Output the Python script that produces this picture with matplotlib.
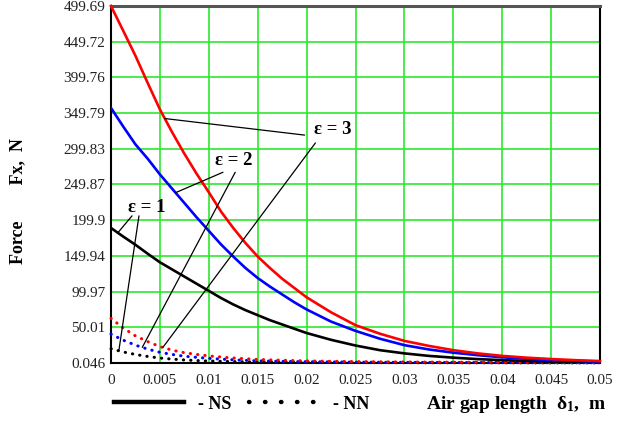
import numpy as np
import matplotlib
matplotlib.use("Agg")
import matplotlib.pyplot as plt
from matplotlib.lines import Line2D

plt.rcParams['font.family'] = ['Liberation Serif', 'DejaVu Serif']
plt.rcParams['mathtext.fontset'] = 'custom'
plt.rcParams['mathtext.rm'] = 'Liberation Serif'
plt.rcParams['mathtext.bf'] = 'Liberation Serif:bold'
plt.rcParams['mathtext.it'] = 'Liberation Serif:italic'

# Air gap length, m
gap = [0.0, 0.00125, 0.0025, 0.00375, 0.005, 0.00625, 0.0075, 0.00875, 0.01,
       0.01125, 0.0125, 0.01375, 0.015, 0.01625, 0.0175, 0.01875, 0.02,
       0.0225, 0.025, 0.0275, 0.03, 0.0325, 0.035, 0.0375, 0.04, 0.0425,
       0.045, 0.0475, 0.05]

# NS configuration (solid), Force Fx, N
ns_eps1 = [189, 177, 165.5, 153, 141, 131, 121, 111, 101,
           91, 82, 74, 67, 60, 54, 48, 42,
           32.5, 24.5, 18, 13.5, 10, 7.5, 5.5, 4, 3, 2, 1.3, 1]
ns_eps2 = [357, 331, 306, 286, 264, 244, 224, 204, 185,
           166, 149, 133, 119, 107, 96, 85, 75,
           58, 45, 34, 25, 19, 14.5, 11, 8, 6, 4, 3, 2]
ns_eps3 = [499.69, 465, 430, 392, 355, 323, 293, 265, 239,
           212, 189, 168, 149, 133, 118, 105, 92,
           71, 53, 41, 31, 24, 18, 13.5, 10, 7.5, 5.6, 4, 2.8]

# NN configuration (dotted), Force Fx, N
nn_eps1 = [20, 15.5, 12, 9.2, 7, 5.5, 4.3, 3.5, 2.8,
           2.4, 2, 1.7, 1.5, 1.35, 1.2, 1.1, 1,
           0.85, 0.7, 0.6, 0.5, 0.45, 0.4, 0.35, 0.3, 0.27, 0.25, 0.22, 0.2]
nn_eps2 = [40.5, 32, 25, 19.5, 15, 12, 9.5, 8, 6.5,
           5.5, 4.5, 3.7, 3, 2.7, 2.3, 2, 1.8,
           1.5, 1.2, 1.05, 0.9, 0.8, 0.7, 0.65, 0.6, 0.5, 0.45, 0.42, 0.4]
nn_eps3 = [62.5, 49, 38, 30, 23, 18, 14.5, 12, 10,
           8.4, 7, 6, 5, 4.4, 3.9, 3.4, 3,
           2.4, 2, 1.7, 1.5, 1.3, 1.2, 1.1, 1, 0.9, 0.8, 0.75, 0.7]

yticks = [0.046, 50.01, 99.97, 149.94, 199.9, 249.87, 299.83, 349.79, 399.76, 449.72, 499.69]
xticks = [0, 0.005, 0.01, 0.015, 0.02, 0.025, 0.03, 0.035, 0.04, 0.045, 0.05]
xticklabels = ['0', '0.005', '0.01', '0.015', '0.02', '0.025', '0.03', '0.035', '0.04', '0.045', '0.05']

fig = plt.figure(figsize=(6.33, 4.36), dpi=100)
ax = fig.add_axes([111/633, 1-363/436, (600-111)/633, (363-6)/436])

grid_c = '#2ee82e'
ax.set_xlim(0, 0.05)
ax.set_ylim(0.046, 499.69)
ax.set_xticks(xticks)
ax.set_xticklabels(xticklabels)
ax.set_yticks(yticks)
ax.set_yticklabels([f'{v:g}' for v in yticks])
ax.grid(True, color=grid_c, lw=1.2)
ax.set_axisbelow(True)
ax.tick_params(length=0, labelsize=11, colors='#222222')
ax.tick_params(axis='x', pad=8)
ax.tick_params(axis='y', pad=4)
for s in ['left', 'bottom', 'right']:
    ax.spines[s].set_color('black')
    ax.spines[s].set_linewidth(1.5)
ax.spines['top'].set_color('#555555')
ax.spines['top'].set_linewidth(2.2)

x = np.array(gap)
dot = dict(lw=2.2, linestyle=(0, (0.1, 2.3)), dash_capstyle='round')
ax.plot(x, nn_eps1, color='black', **dot, clip_on=False, zorder=3)
ax.plot(x, nn_eps2, color='#0000ff', **dot, clip_on=False, zorder=3)
ax.plot(x, nn_eps3, color='#ff0000', **dot, clip_on=False, zorder=3)
ax.plot(x, ns_eps1, color='black', lw=1.9, zorder=4)
ax.plot(x, ns_eps2, color='#0000ff', lw=1.9, zorder=4)
ax.plot(x, ns_eps3, color='#ff0000', lw=1.9, zorder=4, clip_on=False)

# annotations
ann_font = dict(fontsize=13.5, fontweight='bold')
lp = dict(arrowstyle='-', color='black', lw=0.9, shrinkA=0, shrinkB=0)

def leader(label_xy, data_x, series):
    ax.annotate('', xy=(data_x, np.interp(data_x, x, series)), xytext=label_xy,
                arrowprops=lp, zorder=5)

ax.text(0.0227, 327, 'ε = 3', ha='center', va='center', **ann_font)
leader((0.0198, 319), 0.0055, ns_eps3)
leader((0.0209, 308), 0.0053, nn_eps3)

ax.text(0.0125, 284, 'ε = 2', ha='center', va='center', **ann_font)
leader((0.01145, 267), 0.0066, ns_eps2)
leader((0.0127, 267), 0.0032, nn_eps2)

ax.text(0.0037, 218, 'ε = 1', ha='center', va='center', **ann_font)
leader((0.00215, 206), 0.0007, ns_eps1)
leader((0.00286, 206), 0.0008, nn_eps1)

# legend
h_ns = Line2D([], [], color='black', lw=3.2)
h_nn = Line2D([], [], color='black', lw=3.2, linestyle=(0, (0.1, 3.5)), dash_capstyle='round')
fig.legend([h_ns, h_nn], ['- NS', '- NN'], loc='center left',
           bbox_to_anchor=(114/633, 1-404/436), ncol=2, frameon=False,
           borderpad=0, borderaxespad=0, handlelength=3.9, handletextpad=0.75,
           columnspacing=1.0, prop=dict(family='Liberation Serif', weight='bold', size=13))

fig.text(426/633, 1-404/436, r'Air gap length  $\mathbf{δ_1}$,  m', ha='left', va='center',
         fontsize=14, fontweight='bold')
fig.text(18/633, 1-201/436, 'Force        Fx,  N', rotation=90, ha='center', va='center',
         fontsize=13, fontweight='bold')

fig.savefig('out.png', dpi=100)
